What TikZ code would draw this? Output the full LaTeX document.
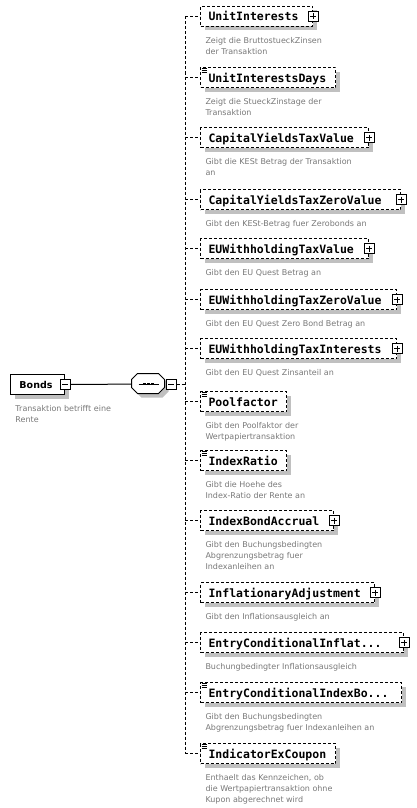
\documentclass[tikz,border=0pt]{standalone}
\usepackage{fontspec}
\usetikzlibrary{positioning,shadows}
\newfontfamily\schemamono{DejaVu Sans Mono}
\newfontfamily\schemasans{DejaVu Sans}
\definecolor{xsdshadow}{RGB}{192,192,192}
\definecolor{xsdnote}{RGB}{120,120,120}
\tikzset{
  xelem/.style={draw, dash pattern=on 3pt off 2pt, fill=white, anchor=north west,
                general shadow={fill=xsdshadow, shadow xshift=4pt, shadow yshift=-4pt},
                minimum height=20pt, inner xsep=8pt, inner ysep=0pt, text height=9pt, text depth=0pt,
                align=left, font=\schemamono\bfseries\fontsize{11.5}{13}\selectfont},
  xroot/.style={draw, fill=white, anchor=north west,
                general shadow={fill=xsdshadow, shadow xshift=4pt, shadow yshift=-4pt},
                minimum height=20pt, inner xsep=9pt, inner ysep=0pt, text width=36pt, align=left,
                font=\schemasans\bfseries\fontsize{9.5}{11}\selectfont},
  xnote/.style={inner sep=0pt, align=left, text=xsdnote, font=\schemasans\fontsize{8}{11}\selectfont},
  xbtn/.style={draw, solid, fill=white, minimum size=10pt, inner sep=0pt},
  xplus/.style={xbtn, path picture={
                \draw ([yshift=-2pt]path picture bounding box.north) -- ([yshift=2pt]path picture bounding box.south)
                      ([xshift=2pt]path picture bounding box.west) -- ([xshift=-2pt]path picture bounding box.east);}},
  xminus/.style={xbtn, path picture={
                \draw ([xshift=2pt]path picture bounding box.west) -- ([xshift=-2pt]path picture bounding box.east);}},
  xcomp/.style={inner sep=0pt, minimum width=33pt, minimum height=20pt},
  xconn/.style={dash pattern=on 3pt off 2pt},
}
\begin{document}
\begin{tikzpicture}[x=1pt,y=-1pt,line width=1pt]
\useasboundingbox (0,0) rectangle (416,808);
% root element and sequence compositor
\node[xroot] (bonds) at (10,374) {Bonds};
\node[xminus] (bondsbtn) at (bonds.east) {};
\node[xnote, below right=10pt and 5pt of bonds.south west] (bondsnote) {Transaktion betrifft eine\\Rente};
\node[xcomp] (seq) at (148.5,384) {};
\fill[xsdshadow, transform canvas={xshift=4pt,yshift=-4pt}] ([xshift=6pt]seq.north west) -- ++(21,0) -- ++(6,6) -- ++(0,8) -- ++(-6,6) -- ++(-21,0) -- ++(-6,-6) -- ++(0,-8) -- cycle;
\filldraw[fill=white] ([xshift=6pt]seq.north west) -- ++(21,0) -- ++(6,6) -- ++(0,8) -- ++(-6,6) -- ++(-21,0) -- ++(-6,-6) -- ++(0,-8) -- cycle;
\node[xminus, right=0pt of seq] (seqbtn) {};
\draw ([xshift=-10pt]seq.center) -- ([xshift=10pt]seq.center);
\foreach \dx in {-4,0,4} \fill ([xshift=\dx pt]seq.center) ++(-1.3,-1.3) rectangle ++(2.6,2.6);
\draw (bondsbtn) -- (seq);
% child elements
\node[xelem, text width=96pt] (e1) at (200,6) {UnitInterests};
\node[xnote, below right=10pt and 5pt of e1.south west] (n1) {Zeigt die BruttostueckZinsen\\der Transaktion};
\node[xelem, text width=119pt] (e2) at (200,67) {UnitInterestsDays};
\node[xnote, below right=10pt and 5pt of e2.south west] (n2) {Zeigt die StueckZinstage der\\Transaktion};
\node[xelem, text width=152pt] (e3) at (200,127) {CapitalYieldsTaxValue};
\node[xnote, below right=10pt and 5pt of e3.south west] (n3) {Gibt die KESt Betrag der Transaktion\\an};
\node[xelem, text width=184pt] (e4) at (200,189) {CapitalYieldsTaxZeroValue};
\node[xnote, below right=10pt and 5pt of e4.south west] (n4) {Gibt den KESt-Betrag fuer Zerobonds an};
\node[xelem, text width=152pt] (e5) at (200,238) {EUWithholdingTaxValue};
\node[xnote, below right=10pt and 5pt of e5.south west] (n5) {Gibt den EU Quest Betrag an};
\node[xelem, text width=180pt] (e6) at (200,289) {EUWithholdingTaxZeroValue};
\node[xnote, below right=10pt and 5pt of e6.south west] (n6) {Gibt den EU Quest Zero Bond Betrag an};
\node[xelem, text width=180pt] (e7) at (200,338) {EUWithholdingTaxInterests};
\node[xnote, below right=10pt and 5pt of e7.south west] (n7) {Gibt den EU Quest Zinsanteil an};
\node[xelem, text width=70pt] (e8) at (200,391) {Poolfactor};
\node[xnote, below right=10pt and 5pt of e8.south west] (n8) {Gibt den Poolfaktor der\\Wertpapiertransaktion};
\node[xelem, text width=70pt] (e9) at (200,450) {IndexRatio};
\node[xnote, below right=10pt and 5pt of e9.south west] (n9) {Gibt die Hoehe des\\Index-Ratio der Rente an};
\node[xelem, text width=117pt] (e10) at (200,510) {IndexBondAccrual};
\node[xnote, below right=10pt and 5pt of e10.south west] (n10) {Gibt den Buchungsbedingten\\Abgrenzungsbetrag fuer\\Indexanleihen an};
\node[xelem, text width=158pt] (e11) at (200,582) {InflationaryAdjustment};
\node[xnote, below right=10pt and 5pt of e11.south west] (n11) {Gibt den Inflationsausgleich an};
\node[xelem, text width=187pt] (e12) at (200,632) {EntryConditionalInflat...};
\node[xnote, below right=10pt and 5pt of e12.south west] (n12) {Buchungbedingter Inflationsausgleich};
\node[xelem, text width=185pt] (e13) at (200,682) {EntryConditionalIndexBo...};
\node[xnote, below right=10pt and 5pt of e13.south west] (n13) {Gibt den Buchungsbedingten\\Abgrenzungsbetrag fuer Indexanleihen an};
\node[xelem, text width=119pt] (e14) at (200,743) {IndicatorExCoupon};
\node[xnote, below right=10pt and 5pt of e14.south west] (n14) {Enthaelt das Kennzeichen, ob\\die Wertpapiertransaktion ohne\\Kupon abgerechnet wird};
% expand buttons and simple-type marks
\foreach \i in {1,3,4,5,6,7,10,11,12} \node[xplus] (b\i) at (e\i.east) {};
\foreach \i in {2,8,9,13,14}
  \draw[line width=0.7pt] \foreach \d in {1.5,3.5,5.5} {([xshift=1.5pt,yshift=-\d pt]e\i.north west) -- ++(5,0)};
% connectors
\coordinate (trunk) at (185,384);
\draw[xconn] (seqbtn) -- (trunk);
\draw[xconn] (trunk |- e1.west) -- (trunk |- e14.west);
\foreach \i in {1,...,14} \draw[xconn] (trunk |- e\i.west) -- (e\i.west);
\end{tikzpicture}
\end{document}
